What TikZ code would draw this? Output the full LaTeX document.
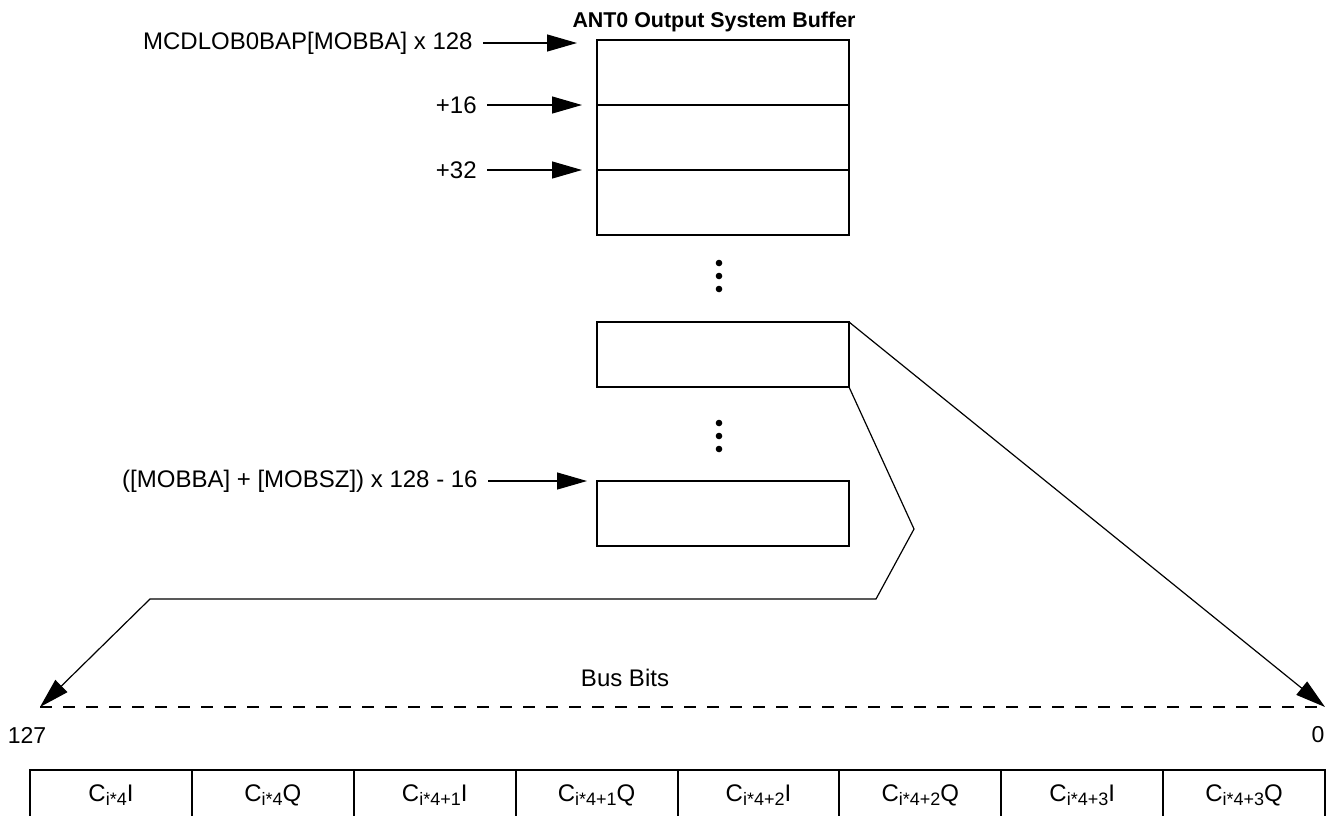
\documentclass[tikz,border=0pt]{standalone}
\usepackage{fontspec}
\setmainfont{Liberation Sans}
\setsansfont{Liberation Sans}
\usetikzlibrary{arrows.meta, calc}
\newcommand{\lanesub}[1]{\raisebox{-0.35ex}{\fontsize{9}{10}\selectfont #1}}

\begin{document}
\begin{tikzpicture}[x=0.5pt, y=-0.5pt, font=\sffamily, >={Triangle[length=15pt, width=8.5pt]},
    slot/.style={draw, line width=1pt, minimum width=126pt, minimum height=32.5pt,
                 inner sep=0pt, outer sep=0pt},
    addr/.style={anchor=east, inner xsep=5pt, font=\sffamily\fontsize{12}{14}\selectfont},
    ptr/.style={->, line width=0.6pt},
    lane/.style={draw, line width=1pt, minimum width=80.94pt, minimum height=25pt,
                 inner sep=0pt, outer sep=0pt, font=\sffamily\fontsize{12}{14}\selectfont},
    bit/.style={font=\sffamily\fontsize{11.5}{13}\selectfont}]
  \useasboundingbox (0,0) rectangle (1331,815);

  % The buffer in memory (first lines, one middle line, last line).
  \node[font=\sffamily\bfseries\fontsize{10.7}{12}\selectfont] (title) at (714,22) {ANT0 Output System Buffer};
  \node[slot] (row1) at (723,72.5) {};
  \node[slot] (row2) at (723,137.5) {};
  \node[slot] (row3) at (723,202.5) {};
  \node[slot] (rowk) at (723,354.5) {};
  \node[slot] (rown) at (723,513.5) {};
  \foreach \yy in {263,276,289,423,436,449}
    \fill (719,\yy) circle (1.65pt);

  % Address pointers into the buffer.
  \node[addr] (base) at (483,43) {MCDLOB0BAP[MOBBA] x 128};
  \node[addr] (off16) at (487,105) {+16};
  \node[addr] (off32) at (487,170) {+32};
  \node[addr] (last) at (488,481) {([MOBBA] + [MOBSZ]) x 128 - 16};
  \coordinate (tip0) at ($(row1.north west)+(-20,3)$);
  \coordinate (tip1) at ($(row2.north west)+(-15,0)$);
  \coordinate (tip2) at ($(row3.north west)+(-15,0)$);
  \coordinate (tipn) at ($(rown.north west)+(-10,0)$);
  \draw[ptr] (base.east) -- (tip0);
  \draw[ptr] (off16.east) -- (tip1);
  \draw[ptr] (off32.east) -- (tip2);
  \draw[ptr] (last.east) -- (tipn);

  % One buffer line spread over the bus.
  \coordinate (msb) at (40,707);
  \coordinate (lsb) at (1325,707);
  \draw[line width=0.7pt, dash pattern=on 6pt off 5.5pt] (msb) -- (lsb);
  \draw[ptr] (rowk.north east) -- (lsb);
  \draw[ptr] (rowk.south east) -- (914,529) -- (876,599) -- (150,599) -- (msb);
  \node[font=\sffamily\fontsize{12}{14}\selectfont] (bus) at (625,678) {Bus Bits};
  \node[bit] (b127) at (27,735) {127};
  \node[bit] (b0) at (1318,735) {0};

  % Sample lanes, MSB on the left.
  \foreach \txt [count=\k] in {%
      C\lanesub{i*4}I, C\lanesub{i*4}Q,
      C\lanesub{i*4+1}I, C\lanesub{i*4+1}Q,
      C\lanesub{i*4+2}I, C\lanesub{i*4+2}Q,
      C\lanesub{i*4+3}I, C\lanesub{i*4+3}Q}
    \node[lane] (lane\k) at ({30+161.875*(\k-0.5)},795) {\txt};
\end{tikzpicture}
\end{document}
